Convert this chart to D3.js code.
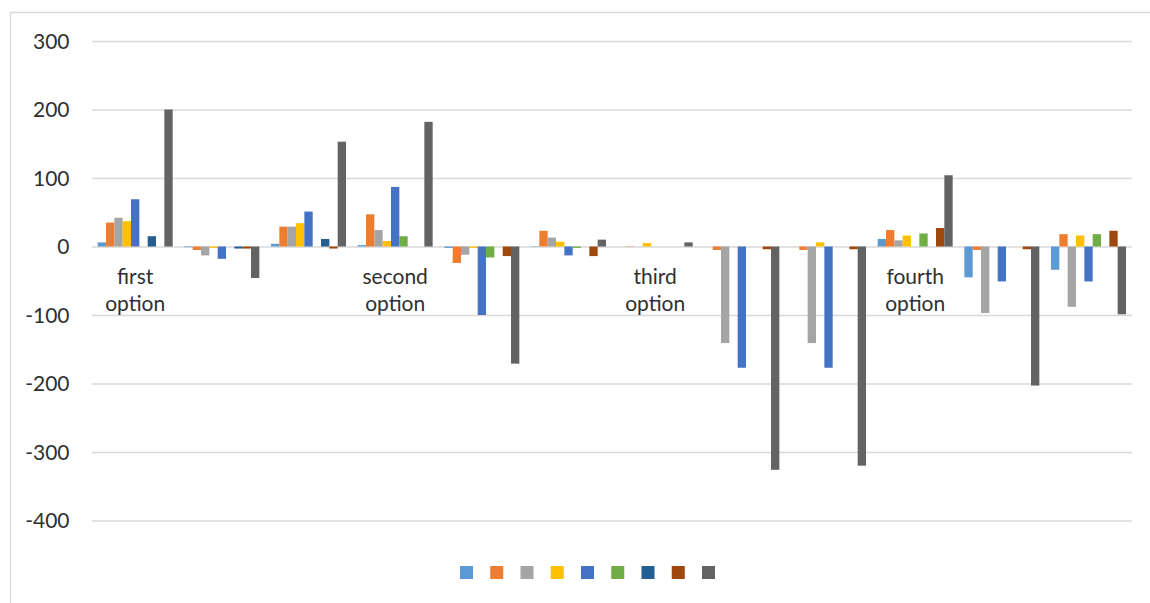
<!DOCTYPE html>
<html>
<head>
<meta charset="utf-8">
<script src="https://cdn.jsdelivr.net/npm/d3@7"></script>
<style>
  html, body { margin: 0; padding: 0; background: #ffffff; }
  svg { display: block; }
  text { font-family: Lato, "Open Sans", sans-serif; }
</style>
</head>
<body>
<svg id="chart" width="1150" height="603"></svg>
<script>
// ---- data ----
const categories = ["first option", "", "", "second option", "", "", "third option", "", "", "fourth option", "", ""];
const seriesNames = ["", "", "", "", "", "", "", "", ""];
const seriesColors = ["#5B9BD5", "#ED7D31", "#A5A5A5", "#FFC000", "#4472C4", "#70AD47", "#255E91", "#9E480E", "#636363"];
const s1 = [6, -1, 4, 2, -2, -0.5, 0, 0, 0, 11, -45, -34];
const s2 = [35, -5, 29, 47, -24, 23, -0.5, -5, -5, 24, -5, 18];
const s3 = [42, -13, 29, 24, -12, 13, 0, -141, -141, 9, -97, -88];
const s4 = [37, -2, 34, 8, -2, 7, 5, 0, 6, 16, 0, 16];
const s5 = [69, -18, 51, 87, -100, -13, 0, -177, -177, 0, -51, -51];
const s6 = [0, 0, 0, 15, -16, -2, 0, 0, 0, 19, 0, 18];
const s7 = [15, -3, 11, 0, 0, 0, 0, 0, 0, 0, 0, 0];
const s8 = [0, -3, -3, 0, -14, -14, 0, -4, -4, 27, -4, 23];
const s9 = [200, -46, 153, 182, -171, 10, 6, -326, -320, 104, -203, -99];
const yTicks = [300, 200, 100, 0, -100, -200, -300, -400];

const seriesValues = [s1, s2, s3, s4, s5, s6, s7, s8, s9];

// ---- layout ----
const svg = d3.select("#chart");
const plot = { left: 91.85, right: 1131.85, top: 41, bottom: 520.5 };

// chart area border (partially visible)
svg.append("path")
  .attr("d", "M10.5,603 L10.5,12.5 L1150,12.5")
  .attr("fill", "none")
  .attr("stroke", "#D9D9D9")
  .attr("stroke-width", 1.3);

const y = d3.scaleLinear().domain([-400, 300]).range([plot.bottom, plot.top]);
const x0 = d3.scaleBand().domain(d3.range(categories.length))
  .range([plot.left, plot.right]).paddingInner(0.1346).paddingOuter(0.0673);
const x1 = d3.scaleBand().domain(d3.range(seriesValues.length))
  .range([0, x0.bandwidth()]).padding(0);

// gridlines via axis
const yAxis = d3.axisLeft(y).tickValues(yTicks).tickSize(-(plot.right - plot.left)).tickPadding(22)
  .tickFormat(d => String(d));
const gy = svg.append("g").attr("transform", `translate(${plot.left},0)`).call(yAxis);
gy.select(".domain").remove();
gy.selectAll(".tick line").attr("stroke", "#D9D9D9").attr("stroke-width", 1.3);
gy.selectAll(".tick text")
  .attr("fill", "#303030")
  .style("font-size", "21px")
  .attr("x", 69.5 - plot.left)
  .attr("dy", "0.35em");

// bars
const groups = svg.append("g").selectAll("g")
  .data(seriesValues)
  .join("g")
  .attr("fill", (d, i) => seriesColors[i]);

groups.selectAll("rect")
  .data((vals, si) => vals.map((v, ci) => ({ v, ci, si })))
  .join("rect")
  .attr("x", d => x0(d.ci) + x1(d.si))
  .attr("width", x1.bandwidth())
  .attr("y", d => y(Math.max(0, d.v)))
  .attr("height", d => Math.abs(y(d.v) - y(0)));

// category labels (next to the zero axis, wrapped)
const catG = svg.append("g");
categories.forEach((c, i) => {
  if (!c) return;
  const t = catG.append("text")
    .attr("text-anchor", "middle")
    .attr("fill", "#303030")
    .style("font-size", "21px")
    .attr("x", x0(i) + x0.bandwidth() / 2)
    .attr("y", y(0) + 37.5);
  c.split(" ").forEach((w, k) => {
    t.append("tspan")
      .attr("x", x0(i) + x0.bandwidth() / 2)
      .attr("dy", k === 0 ? 0 : 27)
      .text(w);
  });
});

// legend (swatches only, names are empty)
const legendX = d3.scaleLinear().domain([0, seriesNames.length - 1]).range([460, 702]);
const lg = svg.append("g");
seriesNames.forEach((n, i) => {
  lg.append("rect")
    .attr("x", legendX(i))
    .attr("y", 566)
    .attr("width", 13)
    .attr("height", 13)
    .attr("fill", seriesColors[i]);
  lg.append("text")
    .attr("x", legendX(i) + 16)
    .attr("y", 577)
    .style("font-size", "14px")
    .attr("fill", "#303030")
    .text(n);
});
</script>
</body>
</html>
